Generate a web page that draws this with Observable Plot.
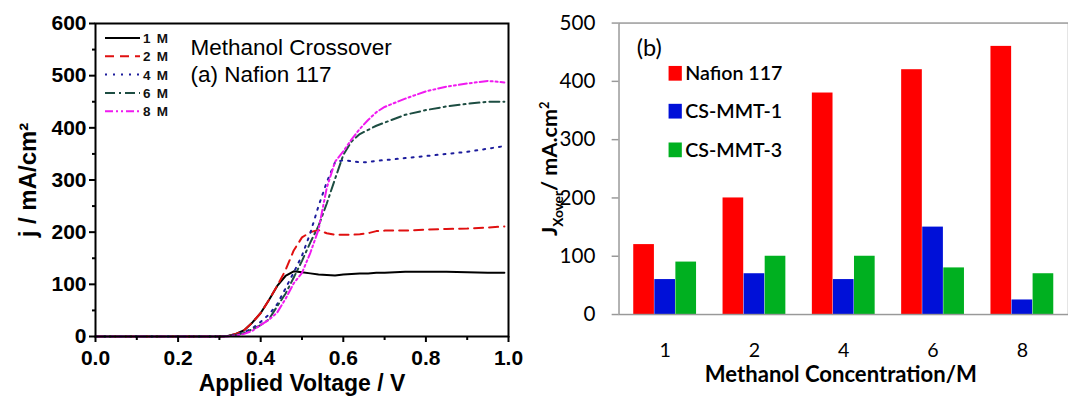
<!DOCTYPE html>
<html><head><meta charset="utf-8">
<script src="https://cdn.jsdelivr.net/npm/d3@7"></script>
<script src="https://cdn.jsdelivr.net/npm/@observablehq/plot@0.6"></script>
<style>
html,body{margin:0;padding:0;background:#fff;}
#wrap{position:relative;width:1068px;height:396px;overflow:hidden;background:#fff;}
#a{position:absolute;left:0;top:0;}
#b{position:absolute;left:540px;top:0;}
</style></head><body>
<div id="wrap"><div id="a"></div><div id="b"></div></div>
<script>
// ---------- Panel (a): methanol crossover curves, Nafion 117 ----------
const volts = [0,0.05,0.1,0.15,0.2,0.25,0.3,0.32,0.34,0.36,0.38,0.4,0.42,0.44,0.46,0.48,0.5,0.52,0.54,0.56,0.58,0.6,0.62,0.64,0.66,0.68,0.7,0.75,0.8,0.85,0.9,0.95,0.99];
const j1M = [0,0,0,0,0,0,0, 1,5,12,27,45, 70,97,116,125,123, 121,119,118,117,119, 120,121,121,122,122, 124,124,124,123,122,122];
const j2M = [0,0,0,0,0,0,0, 1,5,12,27,45, 70,97,127,165,190, 200,204,198,195,195, 195,196,198,202,203, 203,205,206,207,209,211];
const j4M = [0,0,0,0,0,0,0, 1,3,8,16,28, 42,62,92,123,155, 198,250,296,334,338, 336,334,334,337,338, 342,346,350,354,360,365];
const j6M = [0,0,0,0,0,0,0, 1,3,7,14,22, 33,58,82,113,145, 180,212,255,302,348, 374,388,396,404,410, 425,434,441,446,450,450];
const j8M = [0,0,0,0,0,0,0, 0,2,5,11,22, 32,46,72,102,122, 160,205,285,335,355, 378,398,415,430,440, 456,470,479,485,490,487];
const seriesNames = ["1 M","2 M","4 M","6 M","8 M"];
const seriesColors = ["#000000","#e01010","#1c1c9c","#1d4d42","#f01af0"];
const seriesDash = [null,"9,6","2,6","10,4,2,4","8,3,2,3,2,3"];
const curves = [j1M,j2M,j4M,j6M,j8M];
const xTicksA = [0,0.2,0.4,0.6,0.8,1.0];
const xMinorA = [0.1,0.3,0.5,0.7,0.9];
const yTicksA = [0,100,200,300,400,500,600];
const yMinorA = [50,150,250,350,450,550];

const rowsA = seriesNames.flatMap((s,i)=>volts.map((v,k)=>({V:v, j:curves[i][k], s})));
const fontA = "'Liberation Sans', Arial, sans-serif";

const svgA = Plot.plot({
  width: 540, height: 396,
  marginLeft: 95, marginRight: 32, marginTop: 23, marginBottom: 60,
  style: {fontFamily: fontA, background: "white", color: "black", overflow: "visible"},
  x: {domain: [0,1]},
  y: {domain: [0,600]},
  marks: [
    ...seriesNames.map((s,i)=>Plot.line(rowsA.filter(d=>d.s===s), {
      x:"V", y:"j", stroke: seriesColors[i], strokeWidth: 2,
      strokeDasharray: seriesDash[i] || undefined
    })),
    Plot.frame({stroke:"black", strokeWidth:2}),
    Plot.axisX({ticks: xTicksA, tickFormat: d3.format(".1f"), tickSize: 6, tickPadding: 8, strokeWidth: 2, fontSize: 21, fontWeight: "bold", label: null}),
    Plot.axisX({ticks: xMinorA, tickFormat: ()=>"", tickSize: 4, strokeWidth: 2, label: null}),
    Plot.axisY({ticks: yTicksA, tickFormat: d=>String(d), tickSize: 6, tickPadding: 3, strokeWidth: 2, fontSize: 21, fontWeight: "bold", label: null}),
    Plot.axisY({ticks: yMinorA, tickFormat: ()=>"", tickSize: 3, strokeWidth: 2, label: null}),
    Plot.text(["Applied Voltage / V"], {frameAnchor:"bottom", textAnchor:"middle", lineAnchor:"middle", dy: 47, fontSize: 23, fontWeight:"bold"}),
    Plot.text(["j / mA/cm²"], {frameAnchor:"left", textAnchor:"middle", lineAnchor:"middle", rotate:-90, dx:-67, fontSize: 24, fontWeight:"bold"}),
    Plot.text(["Methanol Crossover"], {frameAnchor:"top-left", textAnchor:"start", lineAnchor:"top", dx: 95, dy: 16, fontSize: 22.5}),
    Plot.text(["(a) Nafion 117"], {frameAnchor:"top-left", textAnchor:"start", lineAnchor:"top", dx: 95, dy: 43, fontSize: 22.5})
  ]
});
// in-plot legend for panel (a)
{
  const g = d3.select(svgA).append("g");
  seriesNames.forEach((s,i)=>{
    const y = 38 + i*18.3;
    g.append("line").attr("x1",105).attr("x2",140).attr("y1",y).attr("y2",y)
      .attr("stroke",seriesColors[i]).attr("stroke-width",2)
      .attr("stroke-dasharray", seriesDash[i] || null);
    g.append("text").attr("x",143).attr("y",y+5).text(s)
      .attr("text-anchor","start")
      .attr("font-family",fontA).attr("font-weight","bold").attr("font-size",13.5)
      .attr("letter-spacing","1.2px").attr("fill","#111");
  });
}
document.getElementById("a").appendChild(svgA);

// ---------- Panel (b): crossover current density by concentration ----------
const concs = ["1","2","4","6","8"];
const membranes = ["Nafion 117","CS-MMT-1","CS-MMT-3"];
const nafion = [120,200,380,420,460];
const csmmt1 = [60,70,60,150,25];
const csmmt3 = [90,100,100,80,70];
const barColors = ["#ff0000","#0010d8","#00b020"];
const yTicksB = [0,100,200,300,400,500];

const seriesB = [nafion, csmmt1, csmmt3];
const rowsB = membranes.flatMap((m,i)=>concs.map((c,k)=>({c, m, v: seriesB[i][k]})));
const fontB = "Lato, 'Open Sans', sans-serif";

const WB = 538, MLB = 80, PI = 0.296, PO = 0.151;
const bw = d3.scaleBand(concs, [MLB, WB]).paddingInner(PI).paddingOuter(PO).bandwidth();
const third = bw/3;

const svgB = Plot.plot({
  width: WB, height: 396,
  marginLeft: MLB, marginRight: 0, marginTop: 23, marginBottom: 76,
  style: {fontFamily: fontB, background: "white", color: "black", overflow: "visible"},
  x: {domain: concs, paddingInner: PI, paddingOuter: PO},
  y: {domain: [0,500]},
  marks: [
    ...membranes.map((m,i)=>Plot.barY(rowsB.filter(d=>d.m===m), {
      x:"c", y:"v", fill: barColors[i],
      insetLeft: i*third, insetRight: (2-i)*third
    })),
    Plot.frame({stroke:"#999", strokeWidth:1.5}),
    Plot.axisX({tickSize: 0, tickPadding: 29, fontSize: 20, label: null}),
    Plot.axisY({ticks: yTicksB, tickFormat: d=>String(d), tickSize: 7, tickPadding: 17, stroke:"#999", fill:"black", strokeWidth:1.5, fontSize: 21, label: null}),
    Plot.text(["Methanol Concentration/M"], {frameAnchor:"bottom", textAnchor:"middle", lineAnchor:"middle", dx:-3, dy: 62, fontSize: 22.5, fontWeight:"bold"}),
    Plot.text(["(b)"], {frameAnchor:"top-left", textAnchor:"start", lineAnchor:"top", dx: 18, dy: 17, fontSize: 24, letterSpacing: "3px"})
  ]
});
{
  const g = d3.select(svgB).append("g");
  // rotated y title with subscript / superscript
  const t = g.append("text").attr("transform","translate(10,172) rotate(-90)")
    .attr("text-anchor","middle").attr("dy","0.35em")
    .attr("font-family",fontB).attr("font-weight","bold").attr("font-size",22).attr("fill","black");
  t.append("tspan").text("J");
  t.append("tspan").attr("font-size",14).attr("dy",6).text("Xover");
  t.append("tspan").attr("dy",-6).text("/ mA.cm");
  t.append("tspan").attr("font-size",13).attr("dy",-9).text("2");
  // legend
  membranes.forEach((m,i)=>{
    const y = [74.7,113.3,152.7][i];
    g.append("rect").attr("x",131).attr("y",y-7.5).attr("width",13.5).attr("height",15).attr("fill",barColors[i]);
    g.append("text").attr("x",148).attr("y",y+7).text(m)
      .attr("text-anchor","start")
      .attr("font-family",fontB).attr("font-weight","600").attr("font-size",20).attr("fill","black");
  });
}
document.getElementById("b").appendChild(svgB);
</script>
</body></html>
